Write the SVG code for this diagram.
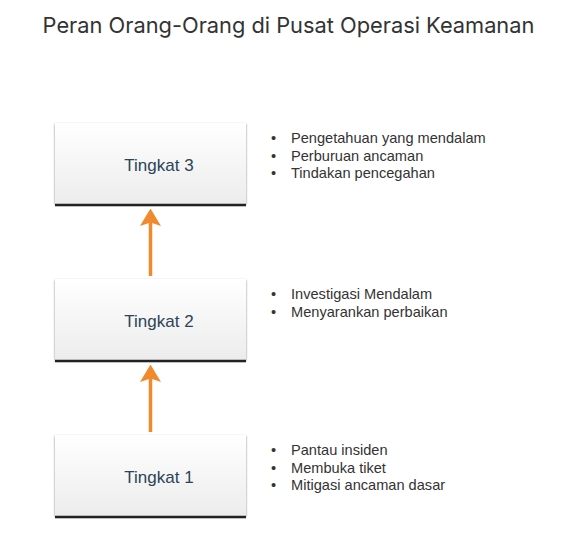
<svg xmlns="http://www.w3.org/2000/svg" width="568" height="541" viewBox="0 0 568 541">
<style>
.title{font-family:Inter,"Liberation Sans",sans-serif;font-size:21.8px;fill:#333333}
.lbl{font-family:"Liberation Sans",Arial,sans-serif;font-size:17px;fill:#2b4457}
.bul{font-family:"Liberation Sans",Arial,sans-serif;font-size:14.6px;fill:#333333}
.box{fill:url(#g)}
.base{stroke:#222;stroke-width:2.5}
.arr{stroke:#f08a2c;stroke-width:3.5;fill:none}
</style>
<defs>
<linearGradient id="g" x1="0" y1="0" x2="0" y2="1">
<stop offset="0" stop-color="#ffffff"/>
<stop offset="1" stop-color="#ececec"/>
</linearGradient>
<filter id="sh" x="-5%" y="-5%" width="110%" height="115%">
<feGaussianBlur in="SourceAlpha" stdDeviation="1.2"/>
<feOffset dx="0" dy="0.5"/>
<feComponentTransfer><feFuncA type="linear" slope="0.5"/></feComponentTransfer>
<feMerge><feMergeNode/><feMergeNode in="SourceGraphic"/></feMerge>
</filter>
<marker id="ah" markerWidth="5" markerHeight="6" refX="4" refY="3" orient="auto" markerUnits="strokeWidth">
<path d="M0,0 L5,3 L0,6 L1,3 Z" fill="#f08a2c"/>
</marker>
</defs>
<rect width="568" height="541" fill="#ffffff"/>
<text class="title" x="288.5" y="33" text-anchor="middle">Peran Orang-Orang di Pusat Operasi Keamanan</text>

<g id="tier3">
<rect class="box" x="55" y="123" width="191" height="81" filter="url(#sh)"/>
<line class="base" x1="55" y1="205" x2="246" y2="205"/>
<text class="lbl" x="159" y="171" text-anchor="middle">Tingkat 3</text>
</g>
<g id="tier2">
<rect class="box" x="55" y="279" width="191" height="81" filter="url(#sh)"/>
<line class="base" x1="55" y1="361" x2="246" y2="361"/>
<text class="lbl" x="159" y="327" text-anchor="middle">Tingkat 2</text>
</g>
<g id="tier1">
<rect class="box" x="55" y="435" width="191" height="81" filter="url(#sh)"/>
<line class="base" x1="55" y1="517" x2="246" y2="517"/>
<text class="lbl" x="159" y="483" text-anchor="middle">Tingkat 1</text>
</g>

<g id="connectors">
<line class="arr" x1="150.5" y1="276" x2="150.5" y2="212" marker-end="url(#ah)"/>
<line class="arr" x1="150.5" y1="432" x2="150.5" y2="368" marker-end="url(#ah)"/>
</g>

<g id="notes3">
<text class="bul" x="271" y="143">•</text><text class="bul" x="291" y="143">Pengetahuan yang mendalam</text>
<text class="bul" x="271" y="160.5">•</text><text class="bul" x="291" y="160.5">Perburuan ancaman</text>
<text class="bul" x="271" y="178">•</text><text class="bul" x="291" y="178">Tindakan pencegahan</text>
</g>
<g id="notes2">
<text class="bul" x="271" y="299">•</text><text class="bul" x="291" y="299">Investigasi Mendalam</text>
<text class="bul" x="271" y="316.5">•</text><text class="bul" x="291" y="316.5">Menyarankan perbaikan</text>
</g>
<g id="notes1">
<text class="bul" x="271" y="455">•</text><text class="bul" x="291" y="455">Pantau insiden</text>
<text class="bul" x="271" y="472.5">•</text><text class="bul" x="291" y="472.5">Membuka tiket</text>
<text class="bul" x="271" y="490">•</text><text class="bul" x="291" y="490">Mitigasi ancaman dasar</text>
</g>
</svg>
